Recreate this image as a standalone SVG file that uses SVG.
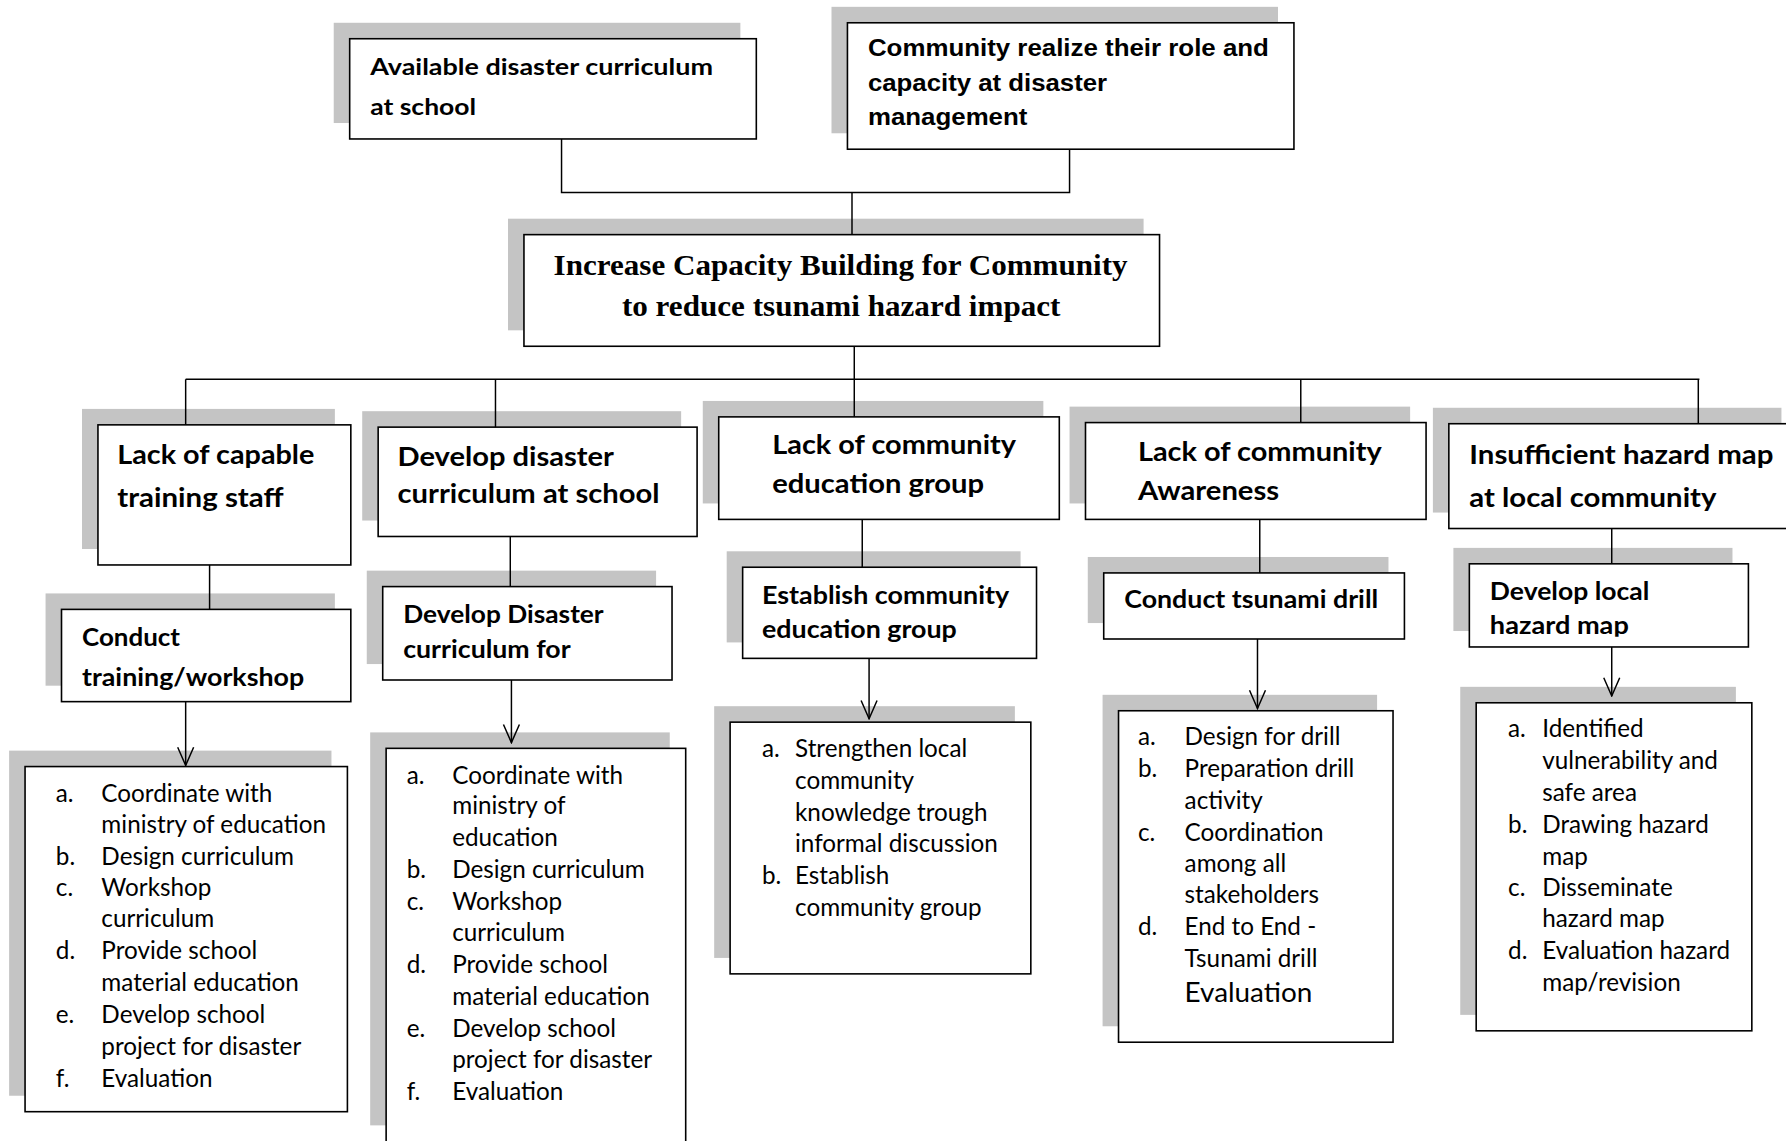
<svg xmlns="http://www.w3.org/2000/svg" width="1786" height="1141" viewBox="0 0 1786 1141">
<style>
.sh{fill:#c4c4c4}
.bx{fill:#fff;stroke:#000;stroke-width:1.4}
.hd{font-family:Lato,"Open Sans","Liberation Sans",sans-serif;font-weight:700;fill:#000}
.ar{font-family:"Liberation Sans",Arial,sans-serif;font-weight:700;fill:#000;font-size:21px}
.tm{font-family:"Liberation Serif","Times New Roman",serif;font-weight:700;fill:#000;font-size:26px}
.li{font-family:Lato,"Open Sans","Liberation Sans",sans-serif;font-weight:400;fill:#000;font-size:21.3px}
.cn{fill:none;stroke:#000;stroke-width:1.3}
.ca{fill:none;stroke:#000;stroke-width:1.3;marker-end:url(#arr)}
</style>
<defs>
<marker id="arr" markerUnits="userSpaceOnUse" markerWidth="18" markerHeight="16" viewBox="0 0 18 16" refX="17" refY="8" orient="auto">
<path d="M1,1 L17,8 L1,15" fill="none" stroke="#000" stroke-width="1.3"/>
</marker>
<clipPath id="clipE3"><rect x="1290" y="495" width="245" height="64"/></clipPath>
</defs>
<rect width="1786" height="1141" fill="#fff"/>
<g transform="scale(1.13903)">

<g id="n-available">
<rect class="sh" x="293" y="20" width="357" height="88"/>
<rect class="bx" x="307" y="34" width="357" height="88"/>
<text class="hd" font-size="20" x="325" y="66" textLength="301" lengthAdjust="spacingAndGlyphs">Available disaster curriculum</text>
<text class="hd" font-size="20" x="325" y="101" textLength="93" lengthAdjust="spacingAndGlyphs">at school</text>
</g>

<g id="n-community-realize">
<rect class="sh" x="730" y="6" width="392" height="111"/>
<rect class="bx" x="744" y="20" width="392" height="111"/>
<text class="ar" x="762" y="49" textLength="352" lengthAdjust="spacingAndGlyphs">Community realize their role and</text>
<text class="ar" x="762" y="80" textLength="210" lengthAdjust="spacingAndGlyphs">capacity at disaster</text>
<text class="ar" x="762" y="110" textLength="140" lengthAdjust="spacingAndGlyphs">management</text>
</g>

<g id="n-center">
<rect class="sh" x="446" y="192" width="558" height="98"/>
<rect class="bx" x="460" y="206" width="558" height="98"/>
<text class="tm" x="738" y="241" text-anchor="middle" textLength="504" lengthAdjust="spacingAndGlyphs">Increase Capacity Building for Community</text>
<text class="tm" x="738.5" y="277" text-anchor="middle" textLength="385" lengthAdjust="spacingAndGlyphs">to reduce tsunami hazard impact</text>
</g>

<g id="n-lack-staff">
<rect class="sh" x="72" y="359" width="222" height="123"/>
<rect class="bx" x="86" y="373" width="222" height="123"/>
<text class="hd" font-size="23" x="103" y="407" textLength="173" lengthAdjust="spacingAndGlyphs">Lack of capable</text>
<text class="hd" font-size="23" x="103" y="445" textLength="146" lengthAdjust="spacingAndGlyphs">training staff</text>
</g>

<g id="n-develop-curriculum">
<rect class="sh" x="318" y="361" width="280" height="96"/>
<rect class="bx" x="332" y="375" width="280" height="96"/>
<text class="hd" font-size="23" x="349" y="409" textLength="190" lengthAdjust="spacingAndGlyphs">Develop disaster</text>
<text class="hd" font-size="23" x="349" y="442" textLength="230" lengthAdjust="spacingAndGlyphs">curriculum at school</text>
</g>

<g id="n-lack-edu-group">
<rect class="sh" x="617" y="352" width="299" height="90"/>
<rect class="bx" x="631" y="366" width="299" height="90"/>
<text class="hd" font-size="23" x="678" y="399" textLength="214" lengthAdjust="spacingAndGlyphs">Lack of community</text>
<text class="hd" font-size="23" x="678" y="433" textLength="186" lengthAdjust="spacingAndGlyphs">education group</text>
</g>

<g id="n-lack-awareness">
<rect class="sh" x="939" y="357" width="299" height="85"/>
<rect class="bx" x="953" y="371" width="299" height="85"/>
<text class="hd" font-size="23" x="999" y="405" textLength="214" lengthAdjust="spacingAndGlyphs">Lack of community</text>
<text class="hd" font-size="23" x="999" y="439" textLength="124" lengthAdjust="spacingAndGlyphs">Awareness</text>
</g>

<g id="n-insufficient-map">
<rect class="sh" x="1258" y="358" width="306" height="92"/>
<rect class="bx" x="1272" y="372" width="310" height="92"/>
<text class="hd" font-size="23" x="1290" y="407" textLength="267" lengthAdjust="spacingAndGlyphs">Insufficient hazard map</text>
<text class="hd" font-size="23" x="1290" y="445" textLength="217" lengthAdjust="spacingAndGlyphs">at local community</text>
</g>

<g id="n-conduct-training">
<rect class="sh" x="40" y="521" width="254" height="81"/>
<rect class="bx" x="54" y="535" width="254" height="81"/>
<text class="hd" font-size="21" x="72" y="567" textLength="86" lengthAdjust="spacingAndGlyphs">Conduct</text>
<text class="hd" font-size="21" x="72" y="602" textLength="195" lengthAdjust="spacingAndGlyphs">training/workshop</text>
</g>

<g id="n-develop-disaster-curr">
<rect class="sh" x="322" y="501" width="254" height="82"/>
<rect class="bx" x="336" y="515" width="254" height="82"/>
<text class="hd" font-size="21" x="354" y="547" textLength="176" lengthAdjust="spacingAndGlyphs">Develop Disaster</text>
<text class="hd" font-size="21" x="354" y="578" textLength="147" lengthAdjust="spacingAndGlyphs">curriculum for</text>
</g>

<g id="n-establish-group">
<rect class="sh" x="638" y="484" width="258" height="80"/>
<rect class="bx" x="652" y="498" width="258" height="80"/>
<text class="hd" font-size="21" x="669" y="530" textLength="217" lengthAdjust="spacingAndGlyphs">Establish community</text>
<text class="hd" font-size="21" x="669" y="560" textLength="171" lengthAdjust="spacingAndGlyphs">education group</text>
</g>

<g id="n-conduct-drill">
<rect class="sh" x="955" y="489" width="264" height="58"/>
<rect class="bx" x="969" y="503" width="264" height="58"/>
<text class="hd" font-size="21" x="987" y="534" textLength="223" lengthAdjust="spacingAndGlyphs">Conduct tsunami drill</text>
</g>

<g id="n-develop-map">
<rect class="sh" x="1276" y="481" width="245" height="73"/>
<rect class="bx" x="1290" y="495" width="245" height="73"/>
<g clip-path="url(#clipE3)">
<text class="hd" font-size="21" x="1308" y="527" textLength="140" lengthAdjust="spacingAndGlyphs">Develop local</text>
<text class="hd" font-size="21" x="1308" y="557" textLength="122" lengthAdjust="spacingAndGlyphs">hazard map</text>
</g>
</g>

<g id="n-list-training">
<rect class="sh" x="8" y="659" width="283" height="303"/>
<rect class="bx" x="22" y="673" width="283" height="303"/>
<text class="li" x="49" y="704">a.</text><text class="li" x="89" y="704">Coordinate with</text>
<text class="li" x="89" y="731">ministry of education</text>
<text class="li" x="49" y="759">b.</text><text class="li" x="89" y="759">Design curriculum</text>
<text class="li" x="49" y="787">c.</text><text class="li" x="89" y="787">Workshop</text>
<text class="li" x="89" y="814">curriculum</text>
<text class="li" x="49" y="842">d.</text><text class="li" x="89" y="842">Provide school</text>
<text class="li" x="89" y="870">material education</text>
<text class="li" x="49" y="898">e.</text><text class="li" x="89" y="898">Develop school</text>
<text class="li" x="89" y="926">project for disaster</text>
<text class="li" x="49" y="954">f.</text><text class="li" x="89" y="954">Evaluation</text>
</g>

<g id="n-list-curriculum">
<rect class="sh" x="325" y="643" width="263" height="345"/>
<rect class="bx" x="339" y="657" width="263" height="370"/>
<text class="li" x="357" y="688">a.</text><text class="li" x="397" y="688">Coordinate with</text>
<text class="li" x="397" y="715">ministry of</text>
<text class="li" x="397" y="743">education</text>
<text class="li" x="357" y="771">b.</text><text class="li" x="397" y="771">Design curriculum</text>
<text class="li" x="357" y="799">c.</text><text class="li" x="397" y="799">Workshop</text>
<text class="li" x="397" y="826">curriculum</text>
<text class="li" x="357" y="854">d.</text><text class="li" x="397" y="854">Provide school</text>
<text class="li" x="397" y="882">material education</text>
<text class="li" x="357" y="910">e.</text><text class="li" x="397" y="910">Develop school</text>
<text class="li" x="397" y="938">project for disaster</text>
<text class="li" x="357" y="966">f.</text><text class="li" x="397" y="966">Evaluation</text>
</g>

<g id="n-list-group">
<rect class="sh" x="627" y="620" width="264" height="221"/>
<rect class="bx" x="641" y="634" width="264" height="221"/>
<text class="li" x="669" y="665">a.</text><text class="li" x="698" y="665">Strengthen local</text>
<text class="li" x="698" y="693">community</text>
<text class="li" x="698" y="721">knowledge trough</text>
<text class="li" x="698" y="748">informal discussion</text>
<text class="li" x="669" y="776">b.</text><text class="li" x="698" y="776">Establish</text>
<text class="li" x="698" y="804">community group</text>
</g>

<g id="n-list-drill">
<rect class="sh" x="968" y="610" width="241" height="291"/>
<rect class="bx" x="982" y="624" width="241" height="291"/>
<text class="li" x="999" y="654">a.</text><text class="li" x="1040" y="654">Design for drill</text>
<text class="li" x="999" y="682">b.</text><text class="li" x="1040" y="682">Preparation drill</text>
<text class="li" x="1040" y="710">activity</text>
<text class="li" x="999" y="738">c.</text><text class="li" x="1040" y="738">Coordination</text>
<text class="li" x="1040" y="766">among all</text>
<text class="li" x="1040" y="793">stakeholders</text>
<text class="li" x="999" y="821">d.</text><text class="li" x="1040" y="821">End to End -</text>
<text class="li" x="1040" y="849">Tsunami drill</text>
<text class="li" x="1040" y="880" style="font-size:24.5px">Evaluation</text>
</g>

<g id="n-list-map">
<rect class="sh" x="1282" y="603" width="242" height="288"/>
<rect class="bx" x="1296" y="617" width="242" height="288"/>
<text class="li" x="1324" y="647">a.</text><text class="li" x="1354" y="647">Identified</text>
<text class="li" x="1354" y="675">vulnerability and</text>
<text class="li" x="1354" y="703">safe area</text>
<text class="li" x="1324" y="731">b.</text><text class="li" x="1354" y="731">Drawing hazard</text>
<text class="li" x="1354" y="759">map</text>
<text class="li" x="1324" y="787">c.</text><text class="li" x="1354" y="787">Disseminate</text>
<text class="li" x="1354" y="814">hazard map</text>
<text class="li" x="1324" y="842">d.</text><text class="li" x="1354" y="842">Evaluation hazard</text>
<text class="li" x="1354" y="870">map/revision</text>
</g>

<g id="connectors">
<path class="cn" d="M493,122 V169 H939 V131"/>
<path class="cn" d="M748,169 V206"/>
<path class="cn" d="M750,304 V333"/>
<path class="cn" d="M163,333 H1492"/>
<path class="cn" d="M163,333 V373"/>
<path class="cn" d="M435,333 V375"/>
<path class="cn" d="M750,333 V366"/>
<path class="cn" d="M1142,333 V371"/>
<path class="cn" d="M1491,333 V372"/>
<path class="cn" d="M184,496 V535"/>
<path class="cn" d="M448,471 V515"/>
<path class="cn" d="M757,456 V498"/>
<path class="cn" d="M1106,456 V503"/>
<path class="cn" d="M1415,464 V495"/>
<path class="ca" d="M163,616 V672"/>
<path class="ca" d="M449,597 V652"/>
<path class="ca" d="M763,578 V631"/>
<path class="ca" d="M1104,561 V622"/>
<path class="ca" d="M1415,568 V611"/>
</g>
</g>
</svg>
